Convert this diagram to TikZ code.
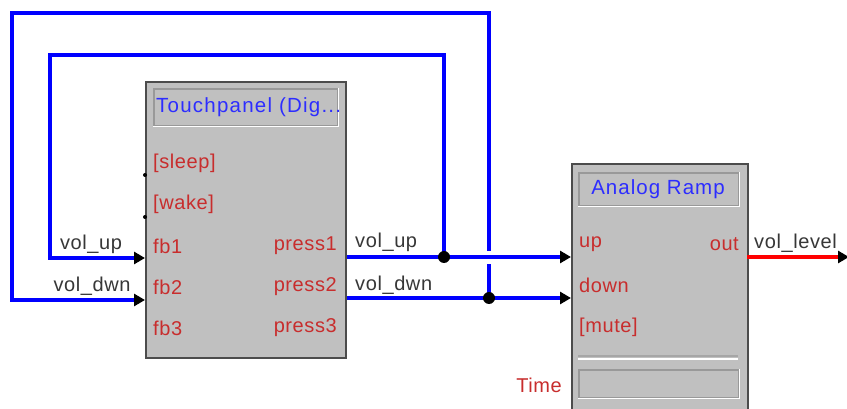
\documentclass[tikz,border=0pt]{standalone}
\usepackage{fontspec}
\setmainfont{Liberation Sans}[LetterSpace=3]
\usetikzlibrary{positioning,calc,arrows.meta}

\definecolor{panelgray}{RGB}{192,192,192}
\definecolor{wireblue}{RGB}{0,0,255}
\definecolor{portred}{RGB}{200,45,45}
\definecolor{titleblue}{RGB}{45,45,255}
\definecolor{labelgray}{RGB}{55,55,55}

\tikzset{
  block/.style={draw=black!70, line width=2pt, fill=panelgray, anchor=north west, inner sep=0pt},
  titlebox/.style={draw=black!40, line width=1.6pt, fill=panelgray, anchor=north west, inner sep=0pt},
  port/.style={text=portred, inner sep=0pt},
  sig/.style={text=labelgray, inner sep=0pt},
  wire/.style={draw=wireblue, line width=3.2pt},
  junct/.style={circle, fill=black, inner sep=0pt, minimum size=12pt},
}

\begin{document}
\begin{tikzpicture}[x=1pt,y=-1pt,>={Triangle[length=11pt,width=12pt,color=black]},
  every node/.append style={font=\fontsize{20}{22}\selectfont}]
  \clip (0,0) rectangle (847,409);
  \fill[white] (0,0) rectangle (847,409);

  % touchpanel block
  \node[block, minimum width=200, minimum height=276] (tp) at (145,81) {};
  \node[titlebox, minimum width=184, minimum height=37] (tptitle) at (153,88) {};
  \draw[white, line width=1.6pt] (tptitle.south west) -| (tptitle.north east);
  \node[anchor=west, text=titleblue, inner sep=0pt, font=\fontsize{20.5}{22}\selectfont\addfontfeature{LetterSpace=6}] (tpname) at (156,107) {Touchpanel (Dig...};
  \node[port, anchor=west] (sleep) at (153,163) {[sleep]};
  \node[port, anchor=west] (wake) at (153,204) {[wake]};
  \node[port, anchor=west] (fb1) at (153,246) {fb1};
  \node[port, anchor=west] (fb2) at (153,287) {fb2};
  \node[port, anchor=west] (fb3) at (153,328) {fb3};
  \node[port, anchor=east] (press1) at (337,246) {press1};
  \node[port, anchor=east] (press2) at (337,287) {press2};
  \node[port, anchor=east] (press3) at (337,328) {press3};
  \fill[black] (145,175) circle (2pt) (145,217) circle (2pt);

  % analog ramp block
  \node[block, minimum width=176, minimum height=270] (ramp) at (571,163) {};
  \node[titlebox, minimum width=160, minimum height=33] (ramptitle) at (578,172) {};
  \draw[white, line width=1.6pt] (ramptitle.south west) -| (ramptitle.north east);
  \node[text=titleblue, inner sep=0pt, font=\fontsize{20.5}{22}\selectfont\addfontfeature{LetterSpace=5}] (rampname) at (658,189) {Analog Ramp};
  \node[port, anchor=west] (up) at (579,244) {up};
  \node[port, anchor=west] (down) at (579,285) {down};
  \node[port, anchor=west] (mute) at (579,327) {[mute]};
  \node[port, anchor=east] (out) at (739,244) {out};
  \draw[black!35, line width=1.6pt] (578,356) -- (738,356);
  \draw[white, line width=1.6pt] (578,359) -- (738,359);
  \node[titlebox, minimum width=160, minimum height=28] (timebox) at (578,369) {};
  \draw[white, line width=1.6pt] (timebox.south west) -| (timebox.north east);
  \node[port, anchor=east] (time) at (562,385) {Time};

  % connection points
  \coordinate (p1) at (347,257);
  \coordinate (p2) at (347,298);
  \coordinate (upin) at (571,257);
  \coordinate (downin) at (571,298);
  \coordinate (fbin1) at (145,258);
  \coordinate (fbin2) at (145,300);
  \coordinate (j1) at (444,257);
  \coordinate (j2) at (489,298);
  \coordinate (outp) at (747,257);
  \coordinate (lvl) at (849,257);

  % wires
  \draw[wire, ->] (p1) -- (upin);
  \draw[wire, ->] (p2) -- (downin);
  \draw[wire, ->] (j1) |- (50,55) |- (fbin1);
  \draw[wire] (j2) -- (489,264);
  \draw[wire, ->] (489,251) |- (12,13) |- (fbin2);
  \draw[red, line width=3.2pt, ->] (outp) -- (lvl);
  \node[junct] at (j1) {};
  \node[junct] at (j2) {};

  % signal names
  \node[sig] (lup) at (91,244) {vol\_up};
  \node[sig] (ldwn) at (92,286) {vol\_dwn};
  \node[sig, anchor=west] (rup) at (355,242) {vol\_up};
  \node[sig, anchor=west] (rdwn) at (355,285) {vol\_dwn};
  \node[sig, anchor=west] (level) at (754,243) {vol\_level};
\end{tikzpicture}
\end{document}
